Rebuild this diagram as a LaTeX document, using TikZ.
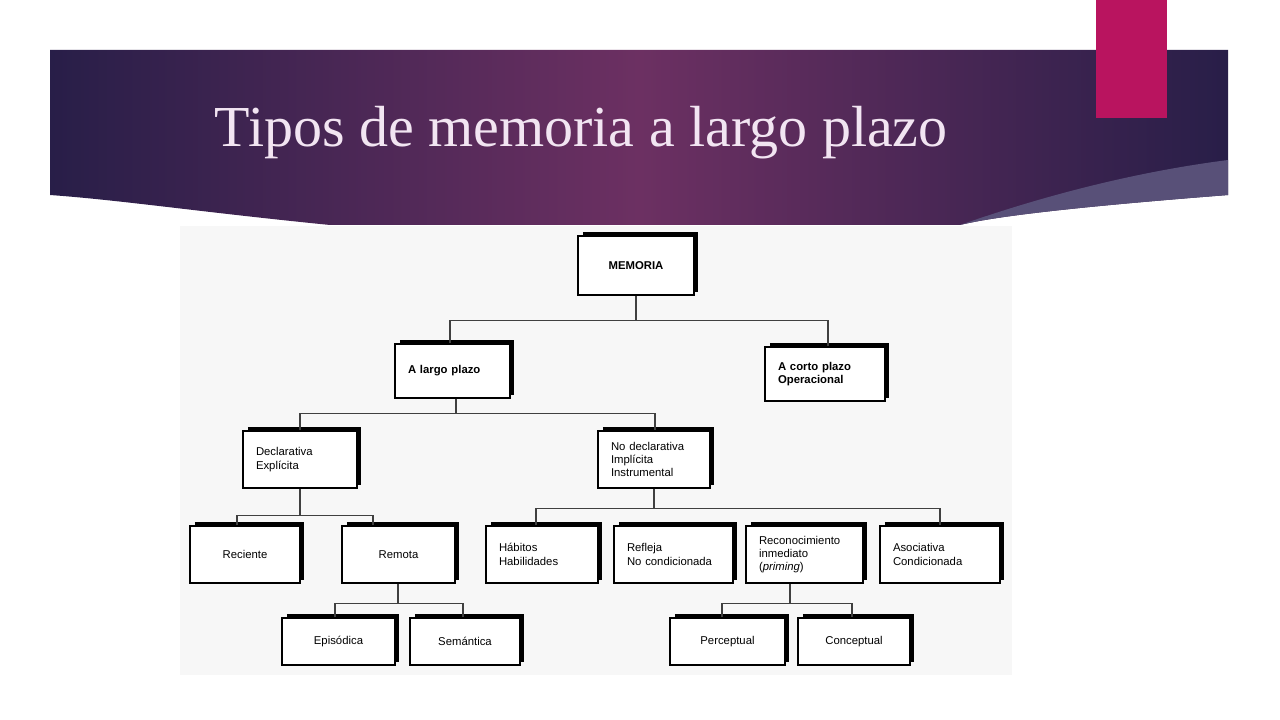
\documentclass[tikz,border=0pt]{standalone}
\usepackage{fontspec}
\setmainfont{Liberation Serif}
\newfontfamily\boxfont{Liberation Sans}
\definecolor{bnedge}{RGB}{40,30,72}
\definecolor{bnmid}{RGB}{108,48,98}
\definecolor{bnstrip}{RGB}{88,80,120}
\definecolor{pinkbar}{RGB}{185,20,95}
\begin{document}
\begin{tikzpicture}[x=0.75pt,y=-0.75pt,
  bx/.style={draw=black,line width=0.8pt,fill=white,inner sep=0pt,font=\boxfont\fontsize{8.5}{10}\selectfont,align=left},
  ln/.style={draw=black!75,line width=0.9pt}]
\useasboundingbox (0,0) rectangle (1280,720);
\fill[white] (0,0) rectangle (1280,720);
% banner
\shade[left color=bnedge, right color=bnedge, middle color=bnmid]
 (50,50) -- (1228,50) -- (1228,195) .. controls (1100,205) and (1000,215) .. (960,225) -- (330,225) .. controls (200,212) and (120,200) .. (50,195) -- cycle;
\fill[bnstrip] (960,225) .. controls (1060,190) and (1150,170) .. (1228,160) -- (1228,195) .. controls (1100,205) and (1000,215) .. (960,225) -- cycle;
\fill[pinkbar] (1096,0) rectangle (1167,118);
\node[anchor=west,text=white!90!violet,font=\fontsize{43.5}{46}\selectfont] (title) at (210,133) {Tipos de memoria a largo plazo};
% diagram background
\fill[black!3] (180,226) rectangle (1012,675);
% boxes
\newcommand\bx[7][align=left]{\node[bx,#1,minimum width={(#5-#3)*0.75pt},minimum height={(#6-#4)*0.75pt},text width={(#5-#3-26)*0.75pt}] (#2) at ({(#3+#5)/2},{(#4+#6)/2}) {#7};}
\bx[align=center]{mem}{578}{236}{694}{295}{\bfseries MEMORIA}
\bx{lar}{395}{344}{510}{398}{\bfseries A largo plazo}
\bx{cor}{765}{347}{885}{401}{\bfseries A corto plazo\\Operacional}
\bx{dec}{243}{431}{357}{488}{Declarativa\\Explícita}
\bx{nod}{598}{431}{710}{488}{No declarativa\\Implícita\\Instrumental}
\bx[align=center]{rec}{190}{526}{300}{583}{Reciente}
\bx[align=center]{rem}{342}{526}{455}{583}{Remota}
\bx{hab}{486}{526}{598}{583}{Hábitos\\Habilidades}
\bx{ref}{614}{526}{733}{583}{Refleja\\No condicionada}
\bx{rei}{746}{526}{863}{583}{Reconocimiento\\inmediato\\(\textit{priming})}
\bx{aso}{880}{526}{1000}{583}{Asociativa\\Condicionada}
\bx[align=center]{epi}{282}{618}{395}{665}{Episódica}
\bx[align=center]{sem}{410}{618}{520}{665}{Semántica}
\bx[align=center]{per}{670}{618}{785}{665}{Perceptual}
\bx[align=center]{con}{798}{618}{910}{665}{Conceptual}
% shadows
\foreach \n in {mem,lar,cor,dec,nod,rec,rem,hab,ref,rei,aso,epi,sem,per,con}{
  \draw[line width=2.6pt] ([xshift=4pt,yshift=1.2pt]\n.north west) -- ([xshift=1.2pt,yshift=1.2pt]\n.north east) -- ([xshift=1.2pt,yshift=3pt]\n.south east);
}
% connectors
\draw[ln] (mem.south) -- ++(0,25) coordinate (j1);
\draw[ln] (lar.north -| 450,0) |- (j1) -| (cor.north -| 828,0);
\draw[ln] (lar.south -| 456,0) -- ++(0,15) coordinate (j2);
\draw[ln] (dec.north -| 300,0) |- (j2) -| (nod.north -| 655,0);
\draw[ln] (dec.south -| 300,0) -- ++(0,27) coordinate (j3);
\draw[ln] (rec.north -| 237,0) |- (j3) -| (rem.north -| 373,0);
\draw[ln] (nod.south) -- ++(0,20) coordinate (j4);
\draw[ln] (hab.north -| 536,0) |- (j4) -| (aso.north -| 940,0);
\draw[ln] (ref.north -| 660,0) -- (ref.north -| 660,0 |- j4);
\draw[ln] (rei.north -| 790,0) -- (rei.north -| 790,0 |- j4);
\draw[ln] (rem.south -| 398,0) -- ++(0,20) coordinate (j5);
\draw[ln] (epi.north -| 335,0) |- (j5) -| (sem.north -| 463,0);
\draw[ln] (rei.south -| 790,0) -- ++(0,20) coordinate (j6);
\draw[ln] (per.north -| 722,0) |- (j6) -| (con.north -| 852,0);
\end{tikzpicture}
\end{document}
